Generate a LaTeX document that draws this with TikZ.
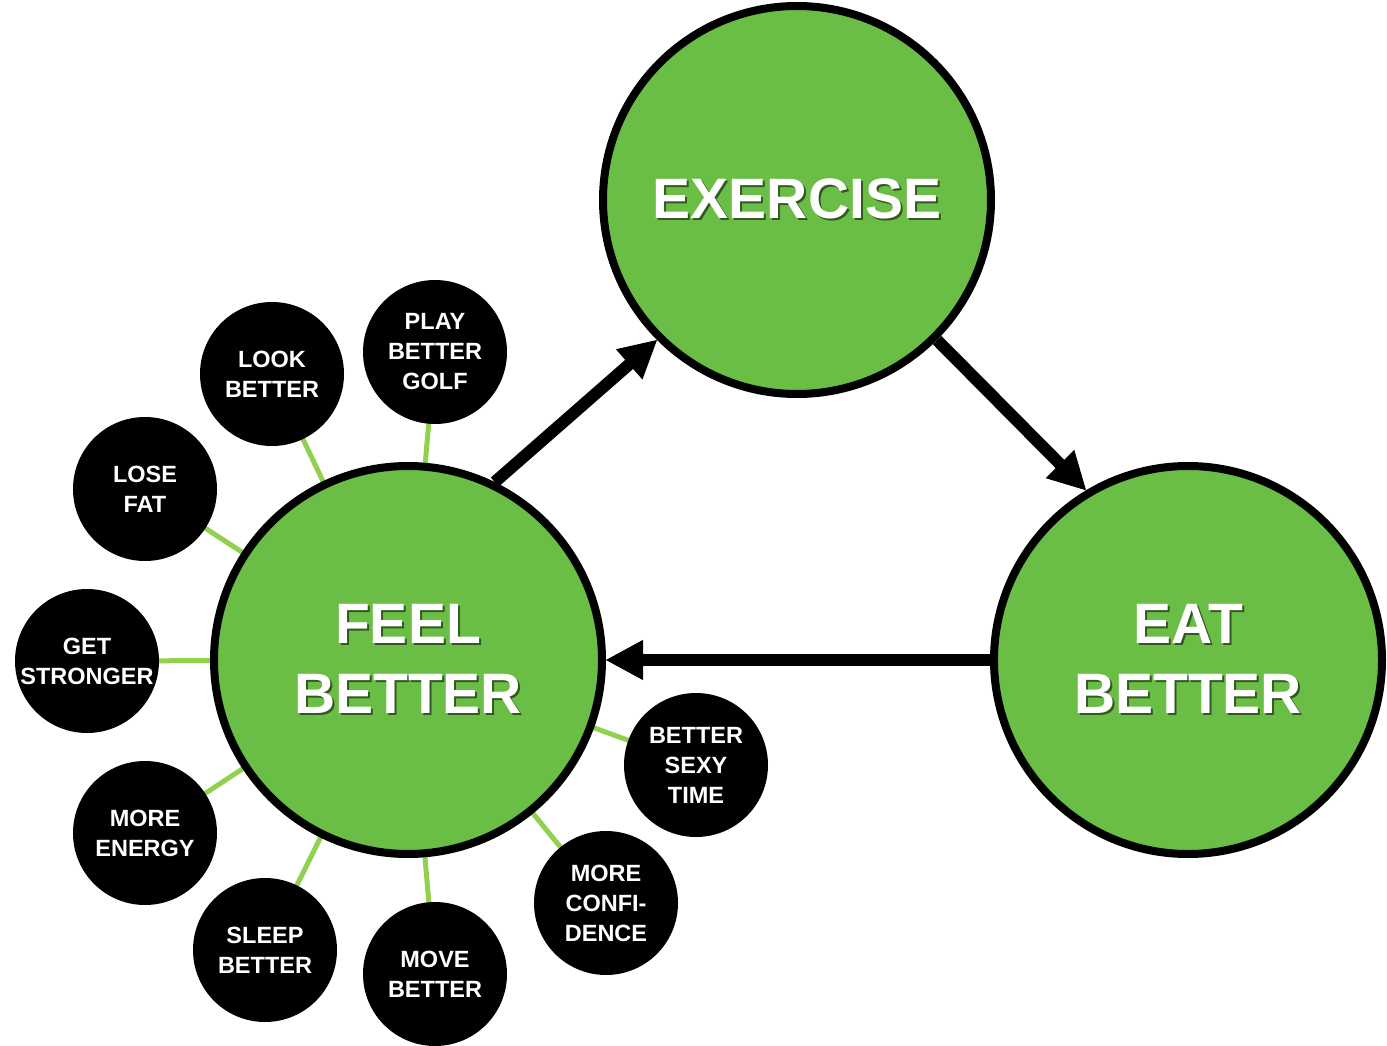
\documentclass[tikz,border=0pt]{standalone}
\usepackage{fontspec}
\setmainfont{Liberation Sans}
\usepackage{tikz}
\usetikzlibrary{arrows.meta,backgrounds}
\usepackage{xcolor}

\definecolor{leafgreen}{RGB}{106,189,69}
\definecolor{stemgreen}{RGB}{146,208,80}
\definecolor{shadowgreen}{RGB}{50,90,32}

\newcommand{\shadowed}[1]{\leavevmode\rlap{\kern2pt\raisebox{-2pt}{\textcolor{shadowgreen}{#1}}}#1}

\begin{document}
\begin{tikzpicture}[x=1pt, y=-1pt,
	bigcircle/.style={
  		draw,
  		circle,
  		line width=8pt,
  		fill=leafgreen,
  		minimum size=388pt,
  		inner sep=0pt,
  		align=center,
  		text=white,
  		font=\fontsize{57}{70}\selectfont\bfseries
  	},
	smallcircle/.style={
  		circle,
  		fill=black,
  		minimum size=144pt,
  		inner sep=0pt,
  		align=center,
  		text=white,
  		font=\fontsize{23.5}{30}\selectfont\bfseries
  	},
	stem/.style={stemgreen, line width=5pt},
	bigarrow/.style={-{Triangle[length=37pt,width=40pt,line width=1pt]}, line width=12pt}
	]

	\useasboundingbox (0,0) rectangle (1387,1046);

  	\node[bigcircle] (exercise) at (797,200) {\shadowed{EXERCISE}};
  	\node[bigcircle] (feel) at (408,660) {\shadowed{FEEL}\\\shadowed{BETTER}};
  	\node[bigcircle] (eat) at (1188,660) {\shadowed{EAT}\\\shadowed{BETTER}};

  	\node[smallcircle] (golf) at (435,352) {PLAY\\BETTER\\GOLF};
  	\node[smallcircle] (look) at (272,374) {LOOK\\BETTER};
  	\node[smallcircle] (fat) at (145,489) {LOSE\\FAT};
  	\node[smallcircle] (strong) at (87,661) {GET\\STRONGER};
  	\node[smallcircle] (energy) at (145,833) {MORE\\ENERGY};
  	\node[smallcircle] (sleep) at (265,950) {SLEEP\\BETTER};
  	\node[smallcircle] (move) at (435,974) {MOVE\\BETTER};
  	\node[smallcircle] (confid) at (606,903) {MORE\\CONFI-\\DENCE};
  	\node[smallcircle] (sexy) at (696,765) {BETTER\\SEXY\\TIME};

  	\begin{scope}[on background layer]
  		\foreach \n in {golf,look,fat,strong,energy,sleep,move,confid,sexy}
  			\draw[stem] (feel.center) -- (\n.center);
  	\end{scope}

  	\draw[bigarrow] (feel.64) -- (exercise.225);
  	\draw[bigarrow] (exercise.-45) -- (eat.121);
  	\draw[bigarrow] (eat.west) -- (feel.east);
\end{tikzpicture}
\end{document}
